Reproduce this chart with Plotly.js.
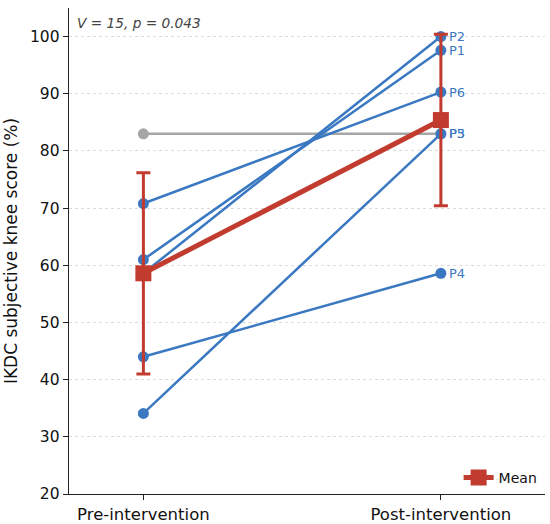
<!DOCTYPE html>
<html>
<head>
<meta charset="utf-8">
<script src="https://cdn.plot.ly/plotly-3.0.1.min.js"></script>
<style>html,body{margin:0;padding:0;background:#fff;}#chart{width:550px;height:524px;}</style>
</head>
<body>
<div id="chart"></div>
<script>
const timepoints = ['Pre-intervention', 'Post-intervention'];
const patients = ['P5', 'P1', 'P2', 'P3', 'P4', 'P6'];
const preScores = [83.0, 61.0, 58.6, 34.1, 44.0, 70.8];
const postScores = [83.0, 97.6, 100.0, 83.0, 58.6, 90.3];
const meanScores = [58.6, 85.4];
const sdScores = [17.6, 15.0];
const statText = 'V = 15, p = 0.043';

const blue = '#3a78c2';
const gray = '#a6a6a6';
const red = '#c23b2f';

const traces = [];
patients.forEach((p, i) => {
  const c = p === 'P5' ? gray : blue;
  traces.push({
    x: timepoints,
    y: [preScores[i], postScores[i]],
    mode: 'lines+markers',
    type: 'scatter',
    line: {color: c, width: 2.5},
    marker: {color: c, size: 11},
    showlegend: false,
    hoverinfo: 'skip'
  });
});
// labels, P5 drawn last so it sits on top of P3
const labelOrder = ['P1', 'P2', 'P3', 'P4', 'P6', 'P5'];
const labelAnns = labelOrder.map(p => {
  const i = patients.indexOf(p);
  return {
    x: timepoints[1], y: postScores[i], xref: 'x', yref: 'y',
    text: p, showarrow: false, xanchor: 'left', yanchor: 'middle', xshift: 6,
    font: {family: 'DejaVu Sans', size: 13, color: blue},
    bgcolor: 'rgba(255,255,255,0)'
  };
});
traces.push({
  x: timepoints,
  y: meanScores,
  mode: 'lines+markers',
  type: 'scatter',
  name: 'Mean',
  line: {color: red, width: 5},
  marker: {color: red, size: 16, symbol: 'square'},
  error_y: {type: 'data', array: sdScores, visible: true, color: red, thickness: 3, width: 7}
});

const layout = {
  width: 550, height: 524,
  margin: {l: 69, r: 5, t: 8, b: 30},
  paper_bgcolor: '#fff', plot_bgcolor: '#fff',
  font: {family: 'DejaVu Sans', color: '#111'},
  xaxis: {
    type: 'category', range: [-0.25, 1.35],
    showline: true, linecolor: '#222', linewidth: 1.3,
    ticks: 'outside', ticklen: 5, tickcolor: '#222',
    showgrid: false, zeroline: false,
    tickfont: {size: 16.5, color: '#111'}
  },
  yaxis: {
    range: [20, 105], tickvals: [20,30,40,50,60,70,80,90,100],
    showline: true, linecolor: '#222', linewidth: 1.3,
    ticks: 'outside', ticklen: 5, tickcolor: '#222',
    showgrid: true, gridcolor: '#dcdcdc', griddash: 'dot', gridwidth: 1,
    zeroline: false,
    tickfont: {size: 15.5, color: '#111'},
    title: {text: 'IKDC subjective knee score (%)', font: {size: 17, color: '#111'}, standoff: 8}
  },
  legend: {
    x: 0.995, y: 0.0, xanchor: 'right', yanchor: 'bottom',
    bgcolor: 'rgba(255,255,255,0)', font: {size: 14, color: '#111'}
  },
  annotations: [{
    xref: 'paper', yref: 'paper', x: 0.012, y: 0.99, xanchor: 'left', yanchor: 'top',
    text: '<i>' + statText + '</i>', showarrow: false,
    font: {size: 13.7, color: '#444'}
  }].concat(labelAnns)
};

Plotly.newPlot('chart', traces, layout, {displayModeBar: false, staticPlot: true});
</script>
</body>
</html>
